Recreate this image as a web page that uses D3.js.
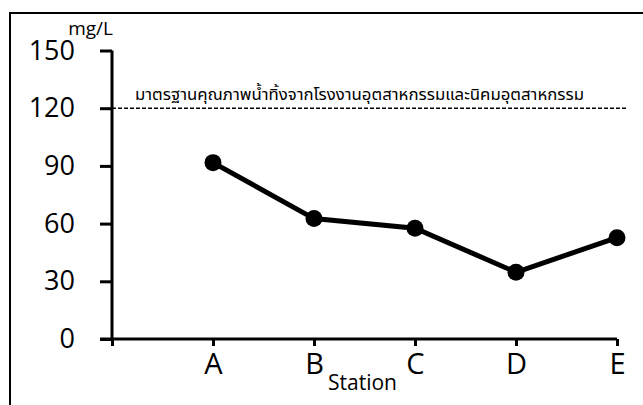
<!DOCTYPE html>
<html>
<head>
<meta charset="utf-8">
<script src="https://cdn.jsdelivr.net/npm/d3@7"></script>
<style>
  html, body { margin: 0; padding: 0; background: #fff; }
  svg { display: block; }
</style>
</head>
<body>
<svg id="chart" width="643" height="405"></svg>
<script>
const stations = ["A", "B", "C", "D", "E"];
const values = [91.7, 62.6, 57.6, 34.7, 52.7];
const yTicks = [0, 30, 60, 90, 120, 150];
const standardValue = 120;
const standardLabel = "มาตรฐานคุณภาพน้ำทิ้งจากโรงงานอุตสาหกรรมและนิคมอุตสาหกรรม";
const yUnit = "mg/L";
const xTitle = "Station";

const svg = d3.select("#chart");
const font = "'Open Sans', 'Noto Sans', 'DejaVu Sans', sans-serif";

// outer frame
svg.append("rect").attr("x", 10).attr("y", 13).attr("width", 700).attr("height", 500)
  .attr("fill", "none").attr("stroke", "#000").attr("stroke-width", 2);

const x0 = 112, x1 = 617;
const x = d3.scalePoint().domain(["", ...stations]).range([x0, x1]);
const y = d3.scaleLinear().domain([0, 150]).range([339, 50.5]);

// y axis
const yAxis = svg.append("g").attr("transform", `translate(${x0},0)`)
  .call(d3.axisLeft(y).tickValues(yTicks).tickSize(12).tickPadding(25));
yAxis.select(".domain").attr("stroke-width", 3).attr("d", `M0,${y(150)}V${y(0)}`);
yAxis.selectAll(".tick line").attr("stroke-width", 3);
yAxis.selectAll(".tick text").attr("font-family", font).attr("font-size", 27).attr("fill", "#000");

// x axis
const xAxis = svg.append("g").attr("transform", `translate(0,${y(0)})`)
  .call(d3.axisBottom(x).tickSize(7).tickPadding(7));
xAxis.select(".domain").attr("stroke-width", 3).attr("d", `M${x0 - 12},0H${x1}`);
xAxis.selectAll(".tick line").attr("stroke-width", 3);
xAxis.selectAll(".tick text").attr("font-family", font).attr("font-size", 29).attr("fill", "#000");

// unit label
svg.append("text").attr("x", x0 + 1).attr("y", 35).attr("text-anchor", "end")
  .attr("font-family", font).attr("font-size", 19).text(yUnit);

// x title
svg.append("text").attr("x", (x("B") + x("C")) / 2 - 2).attr("y", 390).attr("text-anchor", "middle")
  .attr("font-family", font).attr("font-size", 21).text(xTitle);

// standard line
svg.append("line").attr("x1", x0).attr("x2", 628)
  .attr("y1", y(standardValue)).attr("y2", y(standardValue))
  .attr("stroke", "#000").attr("stroke-width", 1.5).attr("stroke-dasharray", "4,2");
svg.append("text").attr("x", 135).attr("y", y(standardValue) - 8)
  .attr("font-family", "'Noto Sans Thai', 'Noto Sans', 'DejaVu Sans', sans-serif")
  .attr("font-size", 16.8).text(standardLabel);

// series line
const data = stations.map((s, i) => ({ s, v: values[i] }));
svg.append("path").datum(data)
  .attr("fill", "none").attr("stroke", "#000").attr("stroke-width", 5)
  .attr("d", d3.line().x(d => x(d.s)).y(d => y(d.v)));
svg.selectAll("circle.pt").data(data).enter().append("circle")
  .attr("class", "pt").attr("cx", d => x(d.s)).attr("cy", d => y(d.v)).attr("r", 8.5)
  .attr("fill", "#000");
</script>
</body>
</html>
